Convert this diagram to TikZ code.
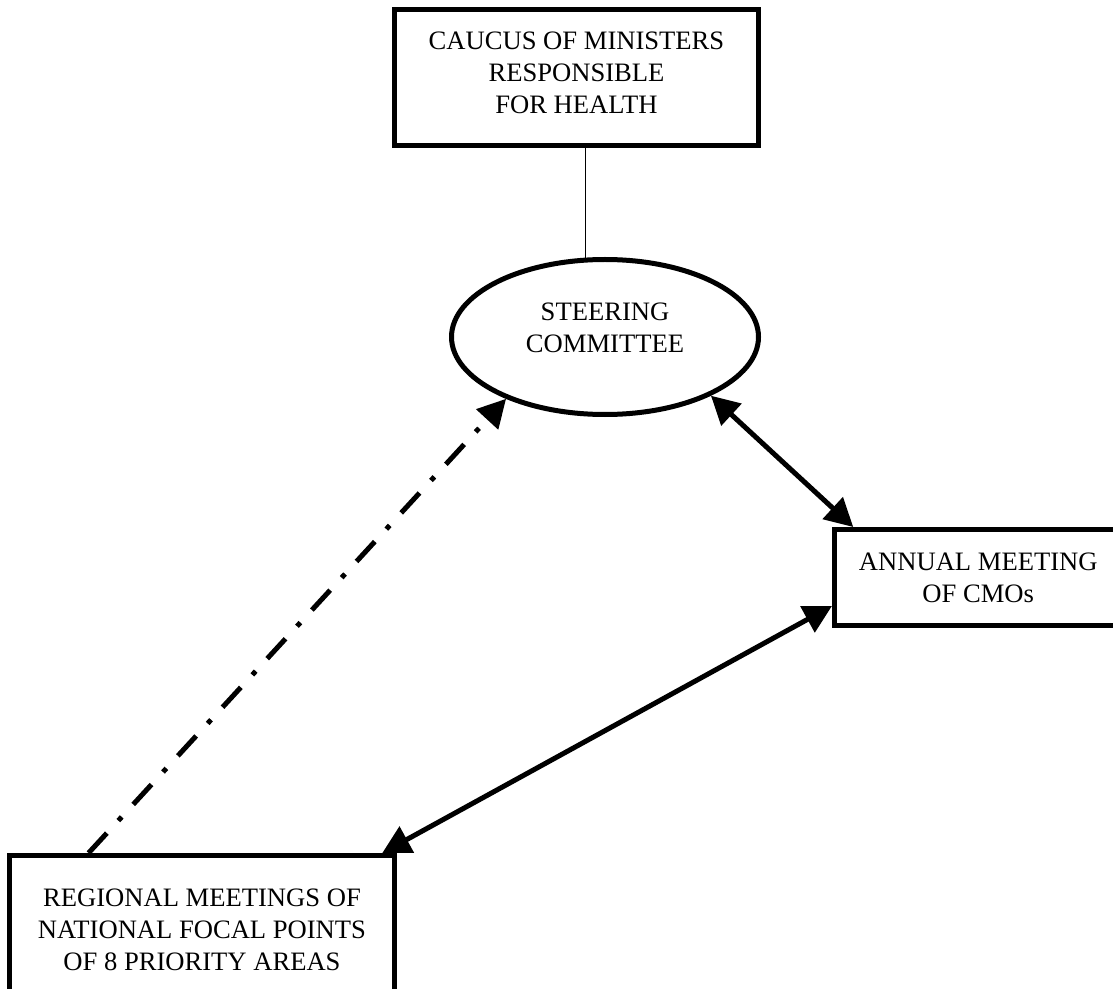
\documentclass[tikz,border=0pt]{standalone}
\usepackage{fontspec}
\setmainfont{Liberation Serif}
\usetikzlibrary{arrows.meta,shapes.geometric}

\begin{document}
\begin{tikzpicture}[x=0.5pt,y=-0.5pt,>={Triangle[length=14pt,width=14.5pt]},
  font=\fontsize{13.3pt}{16pt}\selectfont,line join=miter,
  box/.style={draw,line width=2.5pt,align=center,inner sep=0pt},
  link/.style={line width=2.5pt}]
\useasboundingbox (0,0) rectangle (1113,989);
\node[box,minimum width=182pt,minimum height=68pt,text depth=4.5pt] (caucus) at (576.5,77.5) {CAUCUS OF MINISTERS\\RESPONSIBLE\\FOR HEALTH};
\node[box,ellipse,minimum width=153.5pt,minimum height=77.5pt,text depth=9.5pt] (steer) at (605,337) {STEERING\\COMMITTEE};
\node[box,minimum width=143.75pt,minimum height=48pt] (annual) at (978.25,577.5) {ANNUAL MEETING\\OF CMOs};
\node[box,minimum width=192.5pt,minimum height=74pt] (regional) at (202,929.5) {REGIONAL MEETINGS OF\\NATIONAL FOCAL POINTS\\OF 8 PRIORITY AREAS};
% links
\draw[line width=0.6pt] (steer.104) -- (steer.104 |- caucus.south);
\draw[link,->,dash pattern=on 13.5pt off 8.5pt on 2.5pt off 8.5pt] (regional.146.4) -- (steer.212);
\draw[link,<->] (steer.-29) -- (annual.158.2);
\draw[link,<->] (annual.191.4) -- (regional.23.6);
\end{tikzpicture}
\end{document}
